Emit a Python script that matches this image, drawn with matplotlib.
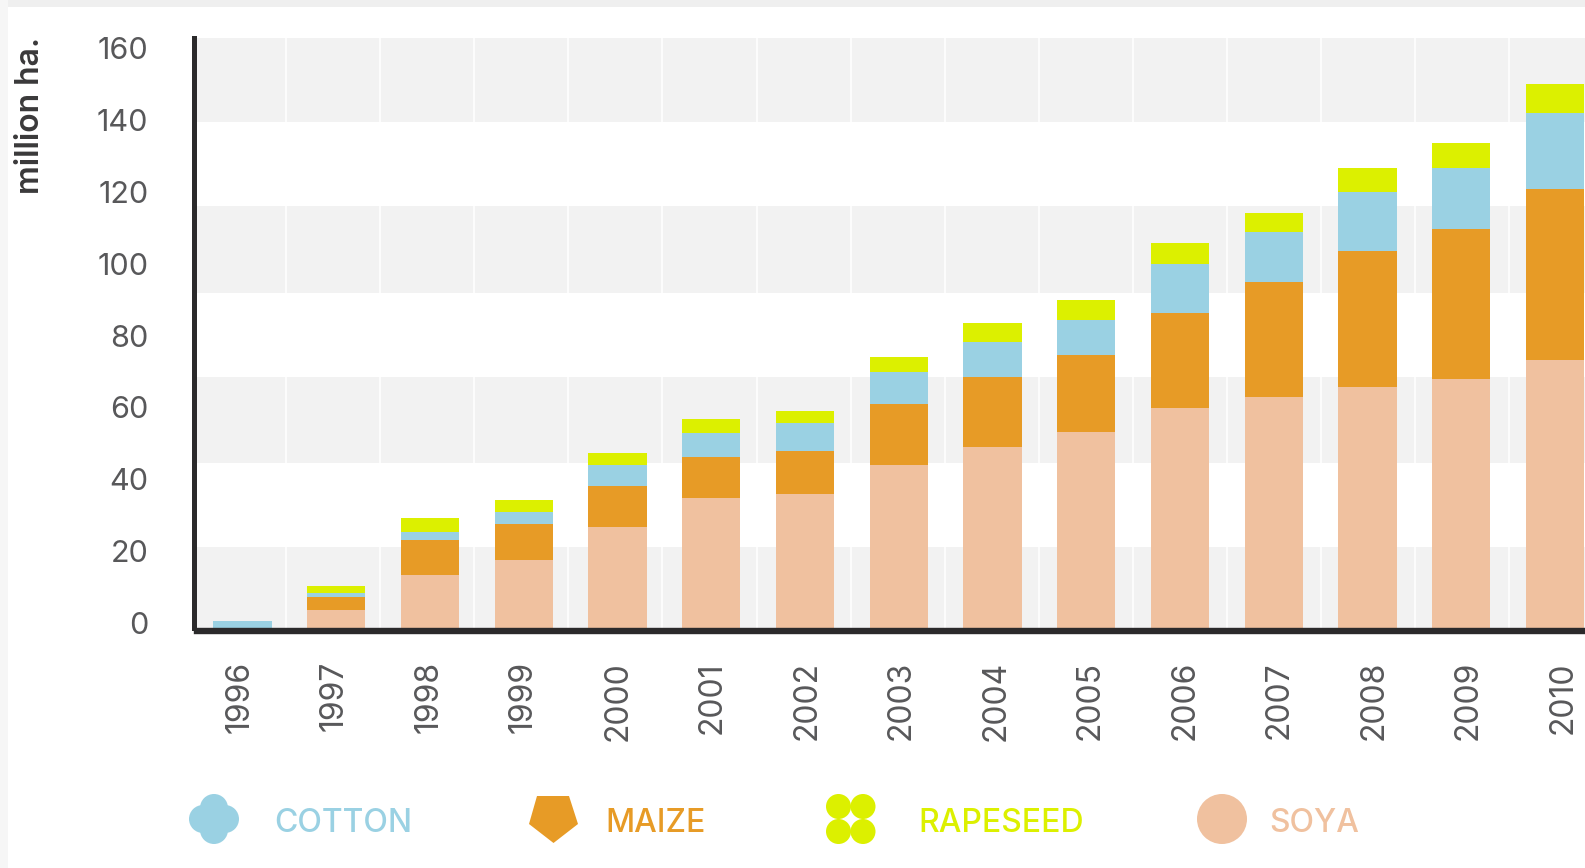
import matplotlib
matplotlib.use("Agg")
import matplotlib.pyplot as plt
from matplotlib.patches import Circle, Polygon, Rectangle
import numpy as np

plt.rcParams['font.family'] = ['Inter', 'DejaVu Sans']

years = ["1996", "1997", "1998", "1999", "2000", "2001", "2002", "2003",
         "2004", "2005", "2006", "2007", "2008", "2009", "2010"]
soya = [0, 4.9, 14.5, 18.4, 27.4, 35.3, 36.2, 44.1, 49, 53.2, 59.5, 62.5, 65.2, 67.4, 72.6]
maize = [0, 3.6, 9.3, 9.8, 11, 11, 11.7, 16.7, 18.9, 20.8, 26, 31.2, 37, 40.8, 46.3]
cotton = [2, 1.1, 2.2, 3.3, 5.7, 6.6, 7.7, 8.5, 9.6, 9.6, 13.1, 13.7, 15.9, 16.5, 20.6]
rapeseed = [0, 1.9, 3.9, 3.3, 3.3, 3.8, 3.3, 4.1, 5.2, 5.2, 5.8, 5.2, 6.6, 6.8, 7.9]
y_labels = [0, 20, 40, 60, 80, 100, 120, 140, 160]

SOYA = "#f0c19f"
MAIZE = "#e79b26"
COTTON = "#9ad1e3"
RAPE = "#dcf000"
DARK = "#2b2a2b"
GREY = "#58585a"

W, H = 1585, 868
fig = plt.figure(figsize=(W / 100, H / 100), dpi=100, facecolor="white")

# page background, pixel coords
bg = fig.add_axes([0, 0, 1, 1], zorder=-1)
bg.set_xlim(0, W)
bg.set_ylim(H, 0)
bg.axis("off")
bg.add_patch(Rectangle((0, 0), W, 7, color="#efefef", lw=0))
bg.add_patch(Rectangle((0, 0), 8, H, color="#f6f6f6", lw=0))

left, top, base = 196.7, 37.7, 628
ax = fig.add_axes([left / W, (H - base) / H, (W - left) / W, (base - top) / H])
ax.patch.set_alpha(0)

# grey bands, they don't line up with the tick labels in the original
for lo, hi in [(0, 22), (44.7, 68), (90.8, 114.4), (137.1, 160)]:
    ax.axhspan(lo, hi, color="#f2f2f2", lw=0, zorder=0)

x = np.arange(len(years))
bottom = np.zeros(len(years))
for vals, col in [(soya, SOYA), (maize, MAIZE), (cotton, COTTON), (rapeseed, RAPE)]:
    ax.bar(x, vals, width=0.62, bottom=bottom, color=col, lw=0, zorder=2)
    bottom += np.array(vals)

# white vertical lines over the bands
ax.set_xticks(-0.539 + 1.0037 * np.arange(1, 15), minor=True)
ax.grid(which="minor", axis="x", color="white", lw=1.2, zorder=1)
ax.set_axisbelow(True)
ax.tick_params(which="minor", length=0)

ax.set_xticks(-0.029 + 1.008 * x, labels=years)
ax.tick_params(axis="x", length=0, pad=21.5, labelsize=23, labelcolor=GREY, labelrotation=90)
for t in ax.get_xticklabels():
    t.set_fontweight("light")
    t.set_va("top")

ax.set_yticks([1.44 + 0.973 * v for v in y_labels], labels=[str(v) for v in y_labels])
ax.tick_params(axis="y", length=0, pad=33, labelsize=22, labelcolor=GREY)
for t in ax.get_yticklabels():
    t.set_fontweight("light")

ax.set_xlim(-0.4885, 14.32)
ax.set_ylim(0, 160)

for s in ["top", "right"]:
    ax.spines[s].set_visible(False)
ax.spines["left"].set_linewidth(3.6)
ax.spines["left"].set_color(DARK)
ax.spines["left"].set_position(("outward", 1.8))
ax.spines["bottom"].set_linewidth(4.6)
ax.spines["bottom"].set_color(DARK)
ax.spines["bottom"].set_position(("outward", 2.3))

# overlay for the y title and the legend, pixel coords
ov = fig.add_axes([0, 0, 1, 1], zorder=5)
ov.set_xlim(0, W)
ov.set_ylim(H, 0)
ov.axis("off")
ov.text(31, 37, "million ha.", rotation=90, ha="center", va="top",
        fontsize=23, fontweight="semibold", color="#3a393a")

for cx, cy in [(214, 808), (214, 830), (203, 819), (225, 819)]:
    ov.add_patch(Circle((cx, cy), 14, color=COTTON, lw=0))
ov.add_patch(Polygon([(537, 796), (569, 796), (578, 824), (553.5, 843), (529, 824)],
                     color=MAIZE, lw=0))
for cx, cy in [(838.5, 806.5), (863, 806.5), (838.5, 831.5), (863, 831.5)]:
    ov.add_patch(Circle((cx, cy), 12.5, color=RAPE, lw=0))
ov.add_patch(Circle((1222, 819), 25, color=SOYA, lw=0))

for tx, label, col in [(274, "COTTON", COTTON), (605, "MAIZE", MAIZE),
                       (918, "RAPESEED", RAPE), (1269, "SOYA", SOYA)]:
    ov.text(tx, 824, label, ha="left", va="center", fontsize=23, fontweight="medium", color=col)

fig.savefig("out.png", dpi=100)
